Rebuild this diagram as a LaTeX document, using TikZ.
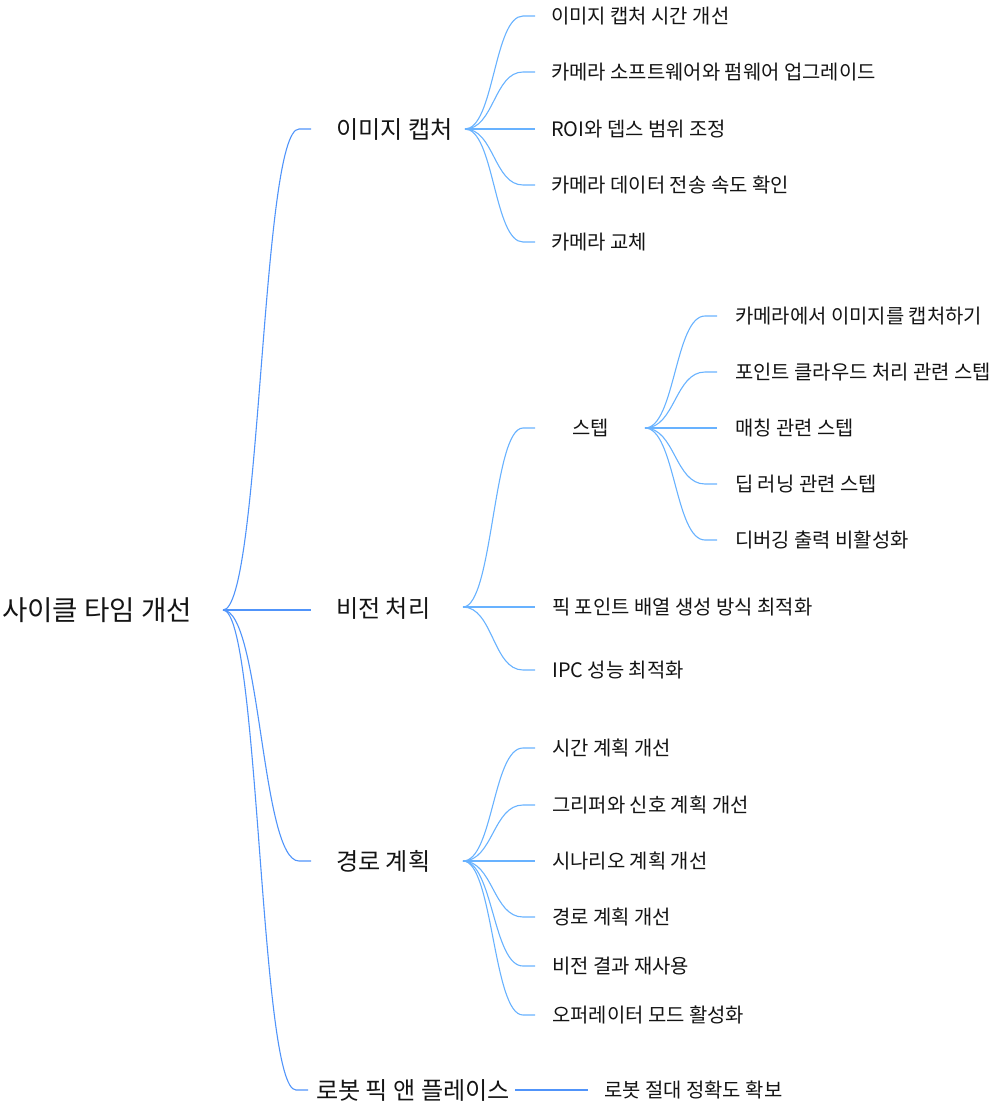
\documentclass[tikz,border=0pt]{standalone}
\usepackage{fontspec}
\setmainfont{Noto Sans CJK KR}
\usetikzlibrary{calc}
\definecolor{rootedge}{RGB}{80,148,250}
\definecolor{subedge}{RGB}{104,178,255}
\definecolor{txt}{RGB}{20,20,20}
\newcommand\mmedge[3]{\draw[#1] let \p1=(#2), \p2=(#3) in (\p1) .. controls ({0.5*\x1+0.5*(\x2-12pt)},\y1) and ({0.5*\x1+0.5*(\x2-12pt)},\y2) .. ({\x2-12pt},\y2) -- (\p2);}
% #1 name, #2 parent out, #3 line end x, #4 text x, #5 y, #6 text
\newcommand\mmleaf[6]{%
  \node[leaflbl] (#1) at (#4,#5+7.6) {#6};
  \coordinate (#1in) at (#3,#5);
  \mmedge{sedge}{#2}{#1in}}
\begin{document}
\begin{tikzpicture}[x=1pt,y=-1pt,
  lbl/.style={anchor=base west,inner sep=0pt,text=txt},
  rootlbl/.style={lbl,font=\fontsize{27.6}{32}\selectfont},
  onelbl/.style={lbl,font=\fontsize{24.1}{28}\selectfont},
  leaflbl/.style={lbl,font=\fontsize{19.9}{24}\selectfont},
  redge/.style={draw=rootedge,line width=1.1pt},
  sedge/.style={draw=subedge,line width=1.1pt}]
\useasboundingbox (0,0) rectangle (989,1111);
% root
\node[rootlbl] (R) at (2,620.5) {사이클 타임 개선};
\coordinate (Rout) at (223,610);
% level 1
\node[onelbl] (A) at (336,138.2) {이미지 캡처};
\coordinate (Ain) at (311,129); \coordinate (Aout) at (465,129);
\node[onelbl] (B) at (336,617.2) {비전 처리};
\coordinate (Bin) at (311,610); \coordinate (Bout) at (463,607);
\node[onelbl] (C) at (336,870.2) {경로 계획};
\coordinate (Cin) at (311,861); \coordinate (Cout) at (463,861);
\node[onelbl] (D) at (316,1099.2) {로봇 픽 앤 플레이스};
\coordinate (Din) at (308,1090); \coordinate (Dout) at (515,1090);
\mmedge{redge}{Rout}{Ain}
\mmedge{redge}{Rout}{Bin}
\mmedge{redge}{Rout}{Cin}
\mmedge{redge}{Rout}{Din}
% A children
\mmleaf{aa}{Aout}{535}{551}{16}{이미지 캡처 시간 개선}
\mmleaf{ab}{Aout}{535}{551}{72}{카메라 소프트웨어와 펌웨어 업그레이드}
\mmleaf{ac}{Aout}{535}{551}{129}{ROI와 뎁스 범위 조정}
\mmleaf{ad}{Aout}{535}{551}{185}{카메라 데이터 전송 속도 확인}
\mmleaf{ae}{Aout}{535}{551}{242}{카메라 교체}
% B children
\node[leaflbl] (S) at (572,435.6) {스텝};
\coordinate (Sin) at (535,428); \coordinate (Sout) at (645,428);
\mmedge{sedge}{Bout}{Sin}
\mmleaf{bb}{Bout}{535}{552}{607}{픽 포인트 배열 생성 방식 최적화}
\mmleaf{bc}{Bout}{535}{552}{670}{IPC 성능 최적화}
\mmleaf{sa}{Sout}{717}{735}{316}{카메라에서 이미지를 캡처하기}
\mmleaf{sb}{Sout}{717}{735}{372}{포인트 클라우드 처리 관련 스텝}
\mmleaf{sc}{Sout}{717}{735}{428}{매칭 관련 스텝}
\mmleaf{sd}{Sout}{717}{735}{484}{딥 러닝 관련 스텝}
\mmleaf{se}{Sout}{717}{735}{540}{디버깅 출력 비활성화}
% C children
\mmleaf{ca}{Cout}{535}{552}{748}{시간 계획 개선}
\mmleaf{cb}{Cout}{535}{552}{805}{그리퍼와 신호 계획 개선}
\mmleaf{cc}{Cout}{535}{552}{861}{시나리오 계획 개선}
\mmleaf{cd}{Cout}{535}{552}{917}{경로 계획 개선}
\mmleaf{ce}{Cout}{535}{552}{966}{비전 결과 재사용}
\mmleaf{cf}{Cout}{535}{552}{1015}{오퍼레이터 모드 활성화}
% D child
\node[leaflbl] (da) at (604,1097.6) {로봇 절대 정확도 확보};
\coordinate (dain) at (588,1090);
\draw[redge] (Dout) -- (dain);
\end{tikzpicture}
\end{document}
